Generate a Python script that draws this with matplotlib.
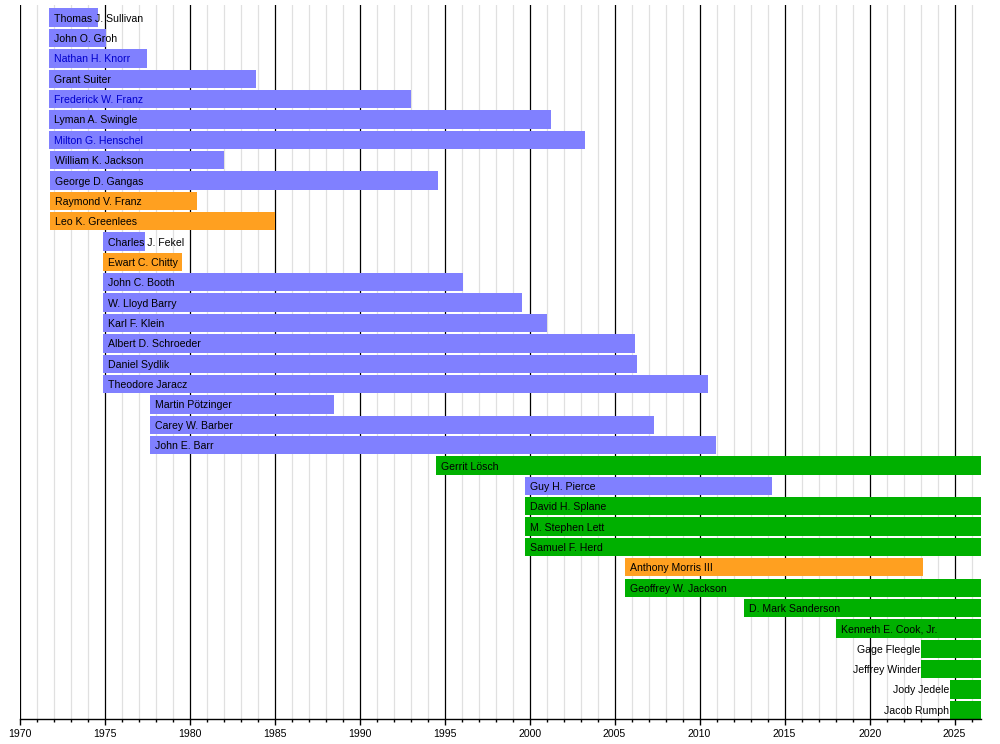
import matplotlib
matplotlib.use("Agg")

import matplotlib.pyplot as plt
from matplotlib.ticker import MultipleLocator

plt.rcParams["font.family"] = ["Liberation Sans", "DejaVu Sans"]

# --- data (years as decimals) ---
names = [
    "Thomas J. Sullivan", "John O. Groh", "Nathan H. Knorr", "Grant Suiter",
    "Frederick W. Franz", "Lyman A. Swingle", "Milton G. Henschel",
    "William K. Jackson", "George D. Gangas", "Raymond V. Franz",
    "Leo K. Greenlees", "Charles J. Fekel", "Ewart C. Chitty", "John C. Booth",
    "W. Lloyd Barry", "Karl F. Klein", "Albert D. Schroeder", "Daniel Sydlik",
    "Theodore Jaracz", "Martin Pötzinger", "Carey W. Barber", "John E. Barr",
    "Gerrit Lösch", "Guy H. Pierce", "David H. Splane", "M. Stephen Lett",
    "Samuel F. Herd", "Anthony Morris III", "Geoffrey W. Jackson",
    "D. Mark Sanderson", "Kenneth E. Cook, Jr.", "Gage Fleegle",
    "Jeffrey Winder", "Jody Jedele", "Jacob Rumph",
]

NOW = 2026.55

starts = [
    1971.74, 1971.74, 1971.74, 1971.74, 1971.74, 1971.74, 1971.74,
    1971.80, 1971.80, 1971.80, 1971.80, 1974.93, 1974.93, 1974.93,
    1974.93, 1974.93, 1974.93, 1974.93, 1974.93, 1977.68, 1977.68, 1977.68,
    1994.50, 1999.74, 1999.74, 1999.74, 1999.74, 2005.61, 2005.61,
    2012.62, 2018.03, 2023.03, 2023.03, 2024.74, 2024.74,
]

ends = [
    1974.60, 1975.09, 1977.47, 1983.91, 1993.03, 2001.24, 2003.27,
    1982.03, 1994.62, 1980.44, 1985.03, 1977.38, 1979.54, 1996.09,
    1999.56, 2001.03, 2006.21, 2006.32, 2010.50, 1988.50, 2007.32, 2010.97,
    NOW, 2014.27, NOW, NOW, NOW, 2023.15, NOW,
    NOW, NOW, NOW, NOW, NOW, NOW,
]

# member = blue, left = orange, current = green
status = [
    "m", "m", "m", "m", "m", "m", "m",
    "m", "m", "l", "l", "m", "l", "m",
    "m", "m", "m", "m", "m", "m", "m", "m",
    "c", "m", "c", "c", "c", "l", "c",
    "c", "c", "c", "c", "c", "c",
]

presidents = ["Nathan H. Knorr", "Frederick W. Franz", "Milton G. Henschel"]
# labels drawn to the left of the bar
outside_left = ["Gage Fleegle", "Jeffrey Winder", "Jody Jedele", "Jacob Rumph"]

colors = {"m": "#8080ff", "l": "#ffa020", "c": "#00b000"}

# --- plot ---
fig = plt.figure(figsize=(10, 7.44), dpi=100)
ax = fig.add_axes([0.0195, 1 - 719 / 744, 0.9615, 714 / 744])

rows = list(range(len(names)))
ax.barh(rows, [e - s for s, e in zip(starts, ends)], left=starts, height=0.9,
        color=[colors[s] for s in status], zorder=2)

for i, name in enumerate(names):
    col = "#0000cc" if name in presidents else "black"
    if name in outside_left:
        ax.text(starts[i] - 0.05, i + 0.05, name, ha="right", va="center",
                fontsize=7.6, color=col, zorder=3)
    else:
        ax.text(starts[i] + 0.3, i + 0.05, name, ha="left", va="center",
                fontsize=7.6, color=col, zorder=3)

ax.set_xlim(1970, NOW)
ax.set_ylim(34.45, -0.62)

# year grid: light every year, black every 5 years
for yr in range(1970, 2027):
    if yr % 5 == 0:
        ax.axvline(yr, color="black", lw=0.9, zorder=1)
    else:
        ax.axvline(yr, color="#e0e0e0", lw=0.9, zorder=1)

ax.xaxis.set_major_locator(MultipleLocator(5))
ax.xaxis.set_minor_locator(MultipleLocator(1))
ax.tick_params(axis="x", which="major", length=4, width=1, labelsize=7.6, pad=3)
ax.tick_params(axis="x", which="minor", length=2, width=1)
ax.set_yticks([])

for side in ["top", "right", "left"]:
    ax.spines[side].set_visible(False)
ax.spines["bottom"].set_linewidth(1)
ax.spines["bottom"].set_zorder(4)

plt.savefig("out.png", dpi=100)
plt.close()
